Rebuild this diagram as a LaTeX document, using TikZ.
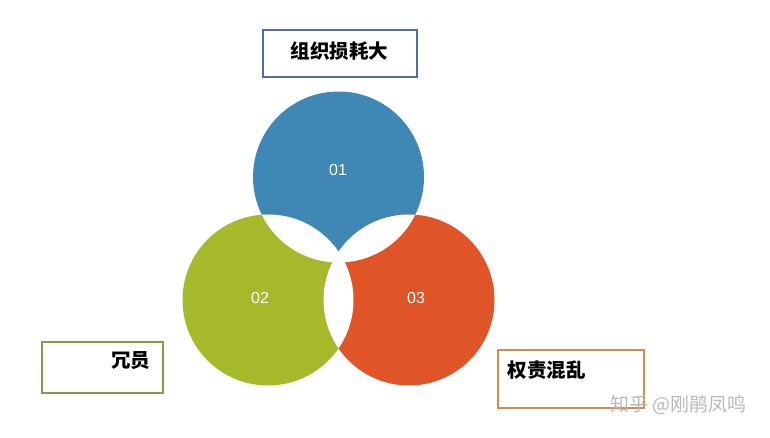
\documentclass[tikz,border=0pt]{standalone}
\usepackage{fontspec}
\setmainfont{Liberation Sans}
\newfontfamily\cjk{Noto Sans CJK SC}
\definecolor{cblue}{HTML}{3F87B5}
\definecolor{cgreen}{HTML}{A6B92A}
\definecolor{corange}{HTML}{E05528}
\definecolor{lblue}{HTML}{4F6DA8}
\definecolor{lgreen}{HTML}{79A14C}
\definecolor{lorange}{HTML}{D38C45}
\tikzset{
  ring/.style={circle, inner sep=0pt, minimum size=171pt},
  num/.style={text=white, font=\fontsize{16}{16}\selectfont},
  tag/.style={draw=#1, line width=2pt, inner sep=0pt},
  word/.style={font=\cjk\bfseries\fontsize{19.5}{20}\selectfont, inner sep=0pt}
}
\begin{document}
\begin{tikzpicture}[x=1pt, y=-1pt]
    \useasboundingbox (0, 0) rectangle (770, 437);
    \node[ring, fill=cblue] (c1) at (338.5, 177) {};
    \node[ring, fill=cgreen] (c2) at (268, 300) {};
    \node[ring, fill=corange] (c3) at (409, 300) {};
    % white overlaps
    \begin{scope}
      \clip (c1.center) circle [radius=85.5];
      \fill[white] (c2.center) circle [radius=85.5];
      \fill[white] (c3.center) circle [radius=85.5];
    \end{scope}
    \begin{scope}
      \clip (c2.center) circle [radius=85.5];
      \fill[white] (c3.center) circle [radius=85.5];
    \end{scope}
    \node[num] (n1) at (338, 170) {01};
    \node[num] (n2) at (260, 298) {02};
    \node[num] (n3) at (416, 298) {03};
    \node[tag=lblue, minimum width=154pt, minimum height=47pt] (b1) at (339.5, 53) {};
    \node[word] (t1) at ([yshift=2pt]b1.center) {组织损耗大};
    \node[tag=lgreen, minimum width=121pt, minimum height=51pt] (b2) at (102, 367) {};
    \node[word, anchor=east] (t2) at ([xshift=-13pt, yshift=6pt]b2.east) {冗员};
    \node[tag=lorange, minimum width=146pt, minimum height=58pt] (b3) at (570.5, 378.5) {};
    \node[word, anchor=west] (t3) at ([xshift=11pt, yshift=8.5pt]b3.west) {权责混乱};
    \node[word, font=\cjk\fontsize{19}{20}\selectfont, text=black!28, anchor=west] (wm) at (610, 405) {知乎 @刚鹃凤鸣};
  \end{tikzpicture}
\end{document}
